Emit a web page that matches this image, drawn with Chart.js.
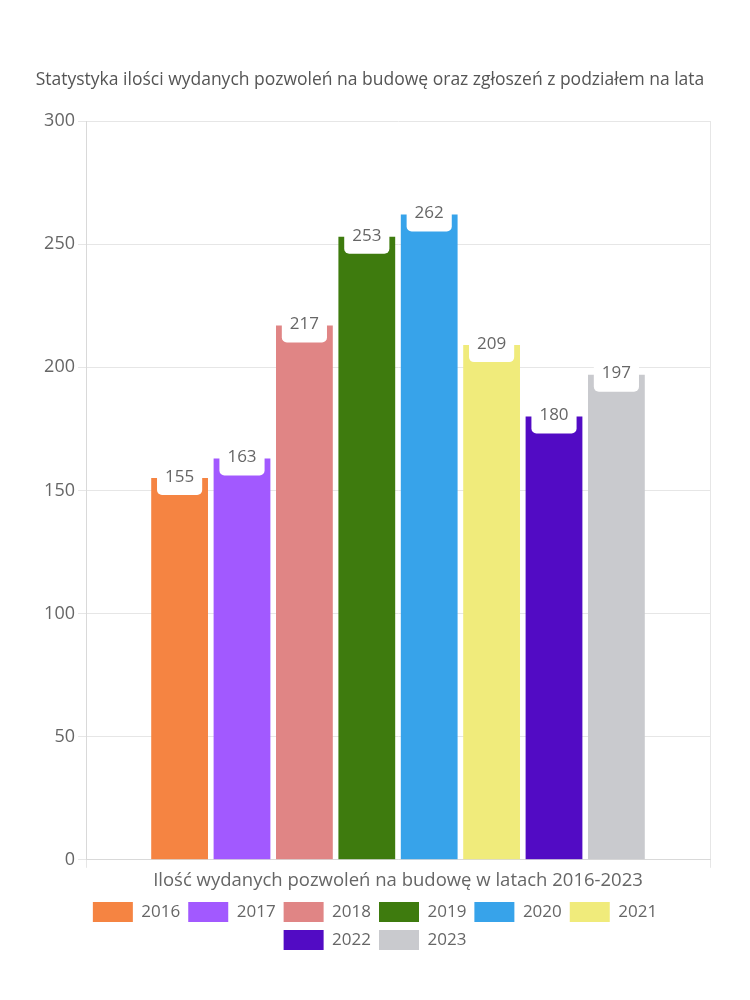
<!DOCTYPE html>
<html>
<head>
<meta charset="utf-8">
<script src="https://cdn.jsdelivr.net/npm/chart.js@4"></script>
<style>
  body { margin: 0; background: #fff; }
  #wrap { width: 750px; height: 1000px; }
</style>
</head>
<body>
<div id="wrap"><canvas id="permitsChart" width="750" height="1000"></canvas></div>
<script>
// data
const categories = ['Ilość wydanych pozwoleń na budowę w latach 2016-2023'];
const years = ['2016', '2017', '2018', '2019', '2020', '2021', '2022', '2023'];
const permits = [155, 163, 217, 253, 262, 209, 180, 197];
const yearColors = ['#F58442', '#A259FF', '#E08585', '#3E7B0E', '#37A3EA', '#F0EB7B', '#520BC4', '#C9CACE'];

const FONT = '"Open Sans", "Noto Sans", sans-serif';
const TEXT = '#666';

// white boxes with the value, centred on the top of each bar
const valueLabels = {
    id: 'valueLabels',
    afterDatasetsDraw(chart) {
        const ctx = chart.ctx;
        ctx.save();
        ctx.font = '17px ' + FONT;
        ctx.textAlign = 'center';
        ctx.textBaseline = 'middle';
        chart.data.datasets.forEach((ds, i) => {
            const meta = chart.getDatasetMeta(i);
            meta.data.forEach((bar, j) => {
                const txt = String(ds.data[j]);
                const w = ctx.measureText(txt).width + 16;
                const h = 32;
                const x = bar.x, y = bar.y;
                ctx.fillStyle = '#fff';
                ctx.beginPath();
                ctx.roundRect(x - w / 2, y - h / 2 + 1, w, h, 5);
                ctx.fill();
                ctx.fillStyle = TEXT;
                ctx.fillText(txt, x, y - 1);
            });
        });
        ctx.restore();
    }
};

// narrower, centred legend so it wraps 6 + 2 like the original
const legendWrap = {
    id: 'legendWrap',
    afterLayout(chart) {
        const lg = chart.legend;
        lg.maxWidth = 650;
        lg.fit();
        lg.left = (chart.width - lg.width) / 2;
        lg.right = lg.left + lg.width;
    }
};

const ctx = document.getElementById('permitsChart').getContext('2d');
new Chart(ctx, {
    type: 'bar',
    data: {
        labels: categories,
        datasets: years.map((y, i) => ({
            label: y,
            data: [permits[i]],
            backgroundColor: yearColors[i],
            borderWidth: 0,
            categoryPercentage: 0.8,
            barPercentage: 0.91
        }))
    },
    options: {
        responsive: false,
        animation: false,
        layout: { padding: { left: 30, right: 40, top: 70, bottom: 40 } },
        plugins: {
            title: {
                display: true,
                text: 'Statystyka ilości wydanych pozwoleń na budowę oraz zgłoszeń z podziałem na lata',
                color: '#555',
                font: { family: FONT, size: 17.5, weight: 'normal' },
                padding: { top: 0, bottom: 30 }
            },
            legend: {
                position: 'bottom',
                labels: {
                    boxWidth: 40,
                    boxHeight: 20,
                    color: TEXT,
                    padding: 8,
                    font: { family: FONT, size: 17 }
                }
            },
            tooltip: { enabled: false }
        },
        scales: {
            x: {
                grid: { color: '#e6e6e6', tickLength: 8 },
                border: { color: '#d9d9d9' },
                ticks: { color: TEXT, font: { family: FONT, size: 18.5 }, padding: 2 }
            },
            y: {
                min: 0,
                max: 300,
                afterFit(scale) { scale.width = 56; },
                grid: { color: '#e6e6e6', tickLength: 8 },
                border: { color: '#d9d9d9' },
                ticks: { stepSize: 50, color: TEXT, font: { family: FONT, size: 18 }, padding: 3 }
            }
        }
    },
    plugins: [valueLabels, legendWrap]
});
</script>
</body>
</html>
